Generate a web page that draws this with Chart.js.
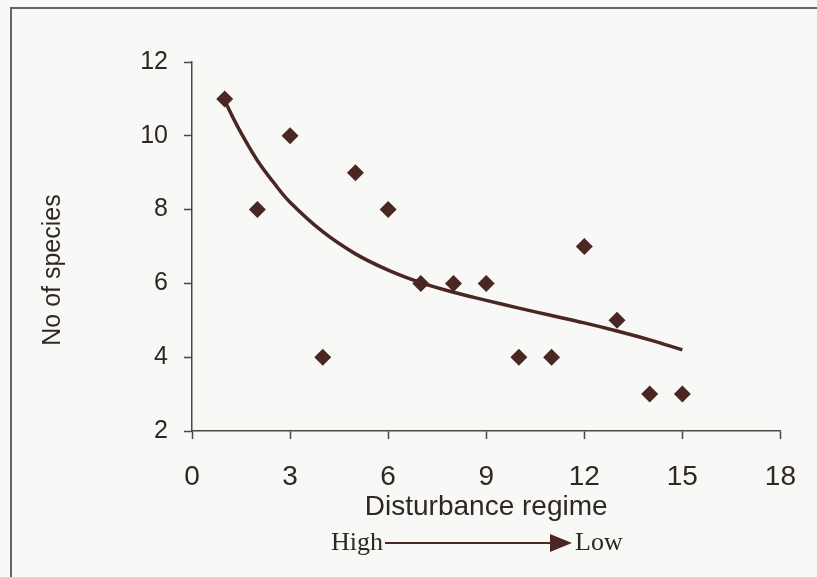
<!DOCTYPE html>
<html>
<head>
<meta charset="utf-8">
<script src="https://cdn.jsdelivr.net/npm/chart.js@4/dist/chart.umd.min.js"></script>
<style>
    html, body { margin: 0; padding: 0; background: #f8f8f6; }
    #wrap { position: relative; width: 817px; height: 577px; overflow: hidden; }
    #marco {
        position: absolute; left: 10px; top: 7px; right: -4px; bottom: -4px;
        border-top: 2px solid #6a6464; border-left: 2px solid #6a6464;
        pointer-events: none;
    }
</style>
</head>
<body>
<div id="wrap">
    <canvas id="grafica" width="817" height="577"></canvas>
    <div id="marco"></div>
</div>
<script>
// observed points
const perturbacion = [1, 2, 3, 4, 5, 6, 7, 8, 9, 10, 11, 12, 13, 14, 15];
const especies = [11, 8, 10, 4, 9, 8, 6, 6, 6, 4, 4, 7, 5, 3, 3];

// fitted curve
const curvaX = [1, 1.25, 1.5, 2, 2.5, 3, 4, 5, 6, 7, 8, 9, 10, 11, 12, 13, 14, 15];
const curvaY = [10.95, 10.5, 10.08, 9.33, 8.73, 8.2, 7.4, 6.8, 6.36, 6.02, 5.76, 5.54, 5.33, 5.13, 4.93, 4.71, 4.47, 4.2];

const ticksX = [0, 3, 6, 9, 12, 15, 18];
const ticksY = [2, 4, 6, 8, 10, 12];

const colorMarca = '#4a2723';
const colorTexto = '#2f2725';
const colorEje = '#4d4644';
const sans = '"Liberation Sans", Arial, sans-serif';
const serif = '"Liberation Serif", "Times New Roman", serif';

const anotaciones = {
    id: 'anotaciones',
    afterDraw(chart) {
        const { ctx, chartArea } = chart;
        // y title
        ctx.save();
        ctx.fillStyle = colorTexto;
        ctx.font = '25px ' + sans;
        ctx.textAlign = 'center';
        ctx.textBaseline = 'middle';
        ctx.translate(53, chartArea.top + 208);
        ctx.rotate(-Math.PI / 2);
        ctx.fillText('No of species', 0, 0);
        ctx.restore();

        // High ---> Low
        const y = chartArea.bottom + 112;
        const x0 = chartArea.left + 193;
        ctx.save();
        ctx.fillStyle = colorTexto;
        ctx.strokeStyle = colorMarca;
        ctx.font = '26px ' + serif;
        ctx.textBaseline = 'middle';
        ctx.textAlign = 'right';
        ctx.fillText('High', x0 - 2, y);
        ctx.lineWidth = 2;
        ctx.beginPath();
        ctx.moveTo(x0, y);
        ctx.lineTo(x0 + 170, y);
        ctx.stroke();
        ctx.fillStyle = colorMarca;
        ctx.beginPath();
        ctx.moveTo(x0 + 165, y - 9);
        ctx.lineTo(x0 + 187, y);
        ctx.lineTo(x0 + 165, y + 9);
        ctx.closePath();
        ctx.fill();
        ctx.fillStyle = colorTexto;
        ctx.textAlign = 'left';
        ctx.fillText('Low', x0 + 190, y);
        ctx.restore();
    }
};

new Chart(document.getElementById('grafica'), {
    type: 'scatter',
    data: {
        datasets: [
            {
                label: 'Curva',
                type: 'line',
                data: curvaX.map((x, i) => ({ x: x, y: curvaY[i] })),
                borderColor: colorMarca,
                borderWidth: 3.5,
                pointRadius: 0,
                fill: false,
                tension: 0.4
            },
            {
                label: 'Especies',
                data: perturbacion.map((x, i) => ({ x: x, y: especies[i] })),
                pointStyle: 'rectRot',
                pointRadius: 8.5,
                backgroundColor: colorMarca,
                borderColor: colorMarca,
                borderWidth: 0
            }
        ]
    },
    options: {
        responsive: false,
        animation: false,
        layout: {
            padding: { top: 62, right: 30, left: 0, bottom: 0 }
        },
        plugins: {
            legend: { display: false },
            tooltip: { enabled: false }
        },
        scales: {
            x: {
                type: 'linear',
                min: 0,
                max: 18,
                afterBuildTicks: (scale) => { scale.ticks = ticksX.map(v => ({ value: v })); },
                afterFit: (scale) => { scale.height = 146; },
                grid: {
                    drawOnChartArea: false,
                    tickLength: 8,
                    tickWidth: 1.5,
                    tickColor: colorEje
                },
                border: { color: colorEje, width: 1.5 },
                ticks: {
                    color: colorTexto,
                    padding: 21,
                    font: { family: sans, size: 28 }
                },
                title: {
                    display: true,
                    text: 'Disturbance regime',
                    color: colorTexto,
                    font: { family: sans, size: 28, lineHeight: 1.2 },
                    padding: { top: 0, bottom: 53 }
                }
            },
            y: {
                type: 'linear',
                min: 2,
                max: 12,
                afterBuildTicks: (scale) => { scale.ticks = ticksY.map(v => ({ value: v })); },
                afterFit: (scale) => { scale.width = 192; },
                grid: {
                    drawOnChartArea: false,
                    tickLength: 8,
                    tickWidth: 1.5,
                    tickColor: colorEje
                },
                border: { color: colorEje, width: 1.5 },
                ticks: {
                    color: colorTexto,
                    padding: 16,
                    font: { family: sans, size: 25 }
                }
            }
        }
    },
    plugins: [anotaciones]
});
</script>
</body>
</html>
